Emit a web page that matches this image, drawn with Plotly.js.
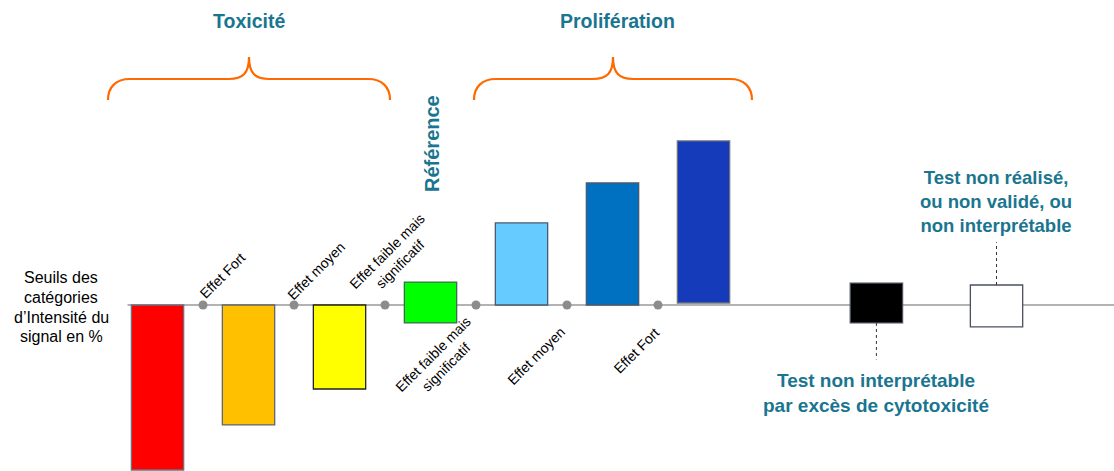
<!DOCTYPE html>
<html>
<head>
<meta charset="utf-8">
<script src="https://cdn.plot.ly/plotly-3.0.1.min.js"></script>
<style>html,body{margin:0;padding:0;background:#fff;}#chart{width:1114px;height:471px;}</style>
</head>
<body>
<div id="chart"></div>
<script>
// ---- Data (signal intensity categories, relative to reference baseline) ----
const categories = ['Toxicité – effet fort', 'Toxicité – effet moyen', 'Toxicité – effet faible', 'Référence',
  'Prolifération – effet faible', 'Prolifération – effet moyen', 'Prolifération – effet fort',
  'Excès de cytotoxicité', 'Non réalisé / non validé'];
const barBottom = [-100, -72.7, -50.9, -10.9, 0, 0, 1.2, -10.9, -13.3];
const barTop    = [0, 0, 0, 13.9, 49.7, 73.9, 99.4, 13.3, 12.1];
const barColors = ['#ff0000', '#ffc000', '#ffff00', '#00ff00', '#66ccff', '#0070c0', '#163bba', '#000000', '#ffffff'];
const thresholdLabelsAbove = ['Effet Fort', 'Effet moyen', 'Effet faible mais<br>significatif'];
const thresholdLabelsBelow = ['Effet faible mais<br>significatif', 'Effet moyen', 'Effet Fort'];
const groupTitles = ['Toxicité', 'Prolifération'];
const axisNoteLines = ['Seuils des', 'catégories', 'd’Intensité du', 'signal en %'];

// ---- Layout helpers ----
const slotPos = [0, 1, 2, 3, 4, 5, 6, 7.9, 9.22];
const dotPos = [0.5, 1.5, 2.5, 3.5, 4.5, 5.5];
const teal = '#1a7590';
const font = 'Liberation Sans, Arial, sans-serif';

const bars = {
  type: 'bar',
  x: slotPos,
  base: barBottom,
  y: barTop.map((t, i) => t - barBottom[i]),
  width: 0.575,
  text: categories,
  hoverinfo: 'text',
  textposition: 'none',
  marker: {
    color: barColors,
    line: { color: ['#6b7280', '#5f6670', '#222222', '#3d6b50', '#4a5a70', '#4a5a70', '#6b7280', '#4a5060', '#4a5060'], width: 1.3 }
  },
  xaxis: 'x', yaxis: 'y'
};

const dots = {
  type: 'scatter', mode: 'markers',
  x: dotPos, y: dotPos.map(() => 0),
  marker: { color: '#8c8c8c', size: 9 },
  hoverinfo: 'skip',
  xaxis: 'x', yaxis: 'y'
};

const annotations = [];
const aboveShift = [[19, 29], [22, 34], [8, 47]];
thresholdLabelsAbove.forEach((t, i) => annotations.push({
  x: dotPos[i], y: 0, xref: 'x', yref: 'y', text: t, showarrow: false, textangle: -45,
  xshift: aboveShift[i][0], yshift: aboveShift[i][1], align: 'center',
  font: { family: font, size: 14, color: '#000' }
}));
const belowShift = [[-37, -56], [-31, -51], [-22, -46]];
thresholdLabelsBelow.forEach((t, i) => annotations.push({
  x: dotPos[i + 3], y: 0, xref: 'x', yref: 'y', text: t, showarrow: false, textangle: -45,
  xshift: belowShift[i][0], yshift: belowShift[i][1], align: 'center',
  font: { family: font, size: 14, color: '#000' }
}));

// pixel-space annotations (xaxis2/yaxis2 map to page pixels)
const noteY = [277, 297, 317, 336];
axisNoteLines.forEach((t, i) => annotations.push({
  x: 61, y: noteY[i], xref: 'x2', yref: 'y2', text: t, showarrow: false,
  font: { family: font, size: 16, color: '#000' }
}));
annotations.push(
  { x: 249, y: 21, xref: 'x2', yref: 'y2', text: '<b>' + groupTitles[0] + '</b>', showarrow: false,
    font: { family: font, size: 19.5, color: teal } },
  { x: 617, y: 21, xref: 'x2', yref: 'y2', text: '<b>' + groupTitles[1] + '</b>', showarrow: false,
    font: { family: font, size: 19.5, color: teal } },
  { x: 432, y: 144, xref: 'x2', yref: 'y2', text: '<b>Référence</b>', showarrow: false, textangle: -90,
    font: { family: font, size: 20, color: teal } },
  { x: 876, y: 393, xref: 'x2', yref: 'y2', text: '<b>Test non interprétable<br>par excès de cytotoxicité</b>', showarrow: false,
    align: 'center', font: { family: font, size: 19, color: teal } },
  { x: 996, y: 201, xref: 'x2', yref: 'y2', text: '<b>Test non réalisé,<br>ou non validé, ou<br>non interprétable</b>', showarrow: false,
    align: 'center', font: { family: font, size: 18.5, color: teal } }
);

function brace(x0, x1, xm) {
  const yb = 100, yf = 79, yp = 57;
  return `M${x0},${yb} C${x0},${yf + 8} ${x0 + 8},${yf} ${x0 + 22},${yf} L${xm - 20},${yf} C${xm - 6},${yf} ${xm},${yf - 6} ${xm},${yp} ` +
         `C${xm},${yf - 6} ${xm + 6},${yf} ${xm + 20},${yf} L${x1 - 22},${yf} C${x1 - 8},${yf} ${x1},${yf + 8} ${x1},${yb}`;
}

const shapes = [
  { type: 'line', xref: 'x', yref: 'y', x0: -0.33, x1: 10.6, y0: 0, y1: 0, line: { color: '#9a9a9a', width: 1.6 }, layer: 'below' },
  { type: 'path', xref: 'x2', yref: 'y2', path: brace(108, 390, 249), line: { color: '#ff6a00', width: 2.2 } },
  { type: 'path', xref: 'x2', yref: 'y2', path: brace(474, 752, 613), line: { color: '#ff6a00', width: 2.2 } },
  { type: 'line', xref: 'x', yref: 'y', x0: slotPos[7], x1: slotPos[7], y0: barBottom[7], y1: -33, line: { color: '#333', width: 1, dash: 'dot' } },
  { type: 'line', xref: 'x', yref: 'y', x0: slotPos[8], x1: slotPos[8], y0: barTop[8], y1: 38, line: { color: '#333', width: 1, dash: 'dot' } }
];

const layout = {
  width: 1114, height: 471,
  margin: { l: 0, r: 0, t: 0, b: 0 },
  paper_bgcolor: '#fff', plot_bgcolor: 'rgba(0,0,0,0)',
  showlegend: false,
  xaxis: { range: [-1.731, 10.511], visible: false, fixedrange: true },
  yaxis: { range: [-100.6, 184.8], visible: false, fixedrange: true },
  xaxis2: { range: [0, 1114], visible: false, overlaying: 'x', fixedrange: true },
  yaxis2: { range: [471, 0], visible: false, overlaying: 'y', fixedrange: true },
  annotations: annotations,
  shapes: shapes,
  bargap: 0
};

Plotly.newPlot('chart', [bars, dots], layout, { displayModeBar: false, staticPlot: true });
</script>
</body>
</html>
